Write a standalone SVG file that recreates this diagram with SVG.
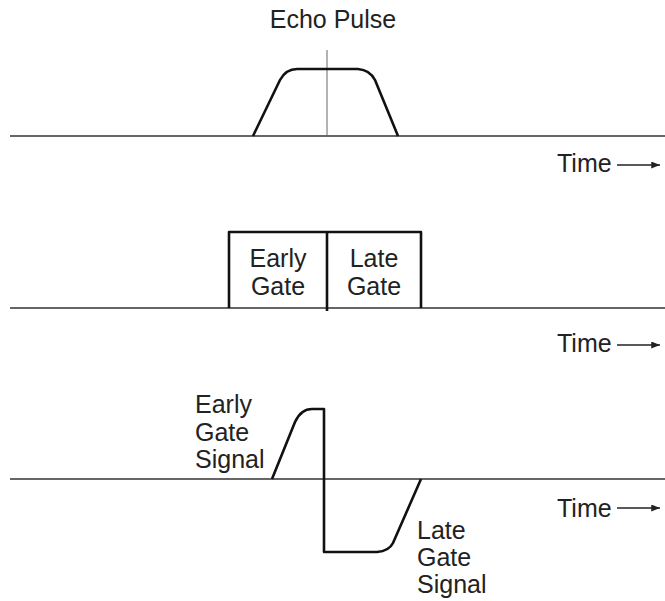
<svg xmlns="http://www.w3.org/2000/svg" width="665" height="601" viewBox="0 0 665 601">
<style>
text{font-family:"Liberation Sans",Arial,sans-serif;font-size:25px;fill:#222}
.base{stroke:#333;stroke-width:1.3;fill:none}
.sig{stroke:#111;stroke-width:2.6;fill:none;stroke-linejoin:round}
.arr{stroke:#222;stroke-width:1.3}
</style>
<defs>
<marker id="ah" viewBox="0 0 10 8" refX="10" refY="4" markerWidth="9" markerHeight="7" markerUnits="userSpaceOnUse" orient="auto">
<path d="M0,0 L10,4 L0,8 Z" fill="#222"/>
</marker>
</defs>
<rect width="665" height="601" fill="#fff"/>
<g id="axes">
<line class="base" x1="10" y1="136" x2="665" y2="136"/>
<line class="base" x1="10" y1="308" x2="665" y2="308"/>
<line class="base" x1="10" y1="479" x2="665" y2="479"/>
</g>
<g id="echo-pulse">
<text x="333" y="28" text-anchor="middle">Echo Pulse</text>
<line x1="327" y1="50" x2="327" y2="136" stroke="#666" stroke-width="1"/>
<path class="sig" d="M253,136 L280,80 Q286,69 297,69 L358,69 Q370,70 375,80 L398,136"/>
</g>
<g id="gates">
<path class="sig" d="M229,308 L229,232 L421,232 L421,308"/>
<line class="sig" x1="327" y1="232" x2="327" y2="311"/>
<text x="278" y="267" text-anchor="middle">Early</text>
<text x="278" y="295" text-anchor="middle">Gate</text>
<text x="374" y="267" text-anchor="middle">Late</text>
<text x="374" y="295" text-anchor="middle">Gate</text>
</g>
<g id="error-signal">
<path class="sig" d="M272,479 L295,422 Q301,409 312,409 L324,409 L324,552 L377,552 Q389,551 393,543 L421,479"/>
<text x="195" y="413">Early</text>
<text x="195" y="441">Gate</text>
<text x="195" y="468">Signal</text>
<text x="417" y="539">Late</text>
<text x="417" y="566">Gate</text>
<text x="417" y="593">Signal</text>
</g>
<g id="connectors">
<text x="557" y="172">Time</text>
<line class="arr" x1="617" y1="165" x2="660" y2="165" marker-end="url(#ah)"/>
<text x="557" y="352">Time</text>
<line class="arr" x1="617" y1="345" x2="660" y2="345" marker-end="url(#ah)"/>
<text x="557" y="517">Time</text>
<line class="arr" x1="617" y1="508" x2="660" y2="508" marker-end="url(#ah)"/>
</g>
</svg>
